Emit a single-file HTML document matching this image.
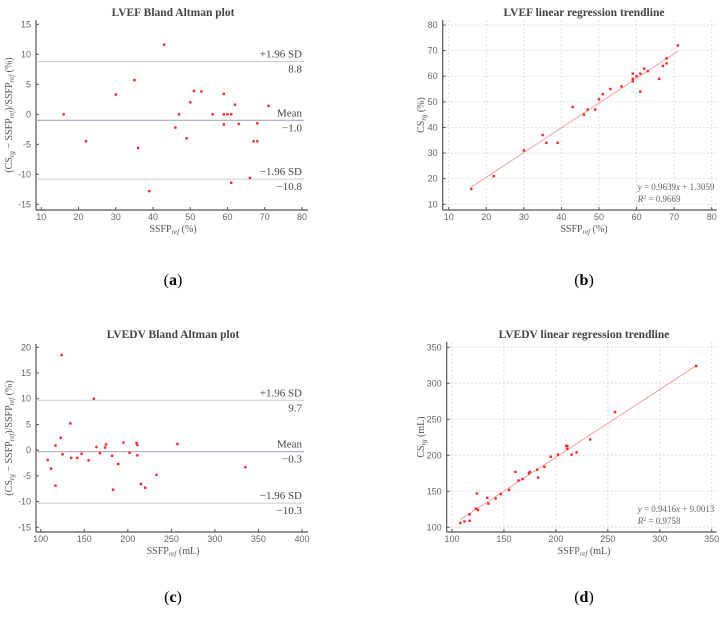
<!DOCTYPE html>
<html><head><meta charset="utf-8">
<style>
body{margin:0;background:#fff;width:728px;height:619px;overflow:hidden}
svg{display:block}
.tk{font-family:"Liberation Sans",sans-serif;font-size:9px;fill:#666}
.tt{font-family:"Liberation Serif",serif;font-size:11.5px;font-weight:bold;fill:#444}
.lb{font-family:"Liberation Serif",serif;font-size:10px;fill:#555}
.eq{font-family:"Liberation Serif",serif;font-size:9px;fill:#666}
.an{font-family:"Liberation Serif",serif;font-size:11px;fill:#444}
.pl{font-family:"Liberation Serif",serif;font-size:16px;fill:#000}
</style></head><body>
<svg id="s" width="728" height="619"></svg>
<script>
const aX=[16,22,30,35,36,39,43,46,47,49,50,51,53,56,59,59,59,60,61,61,62,63,66,67,68,68,71];
const aY=[0,-4.5,3.3,5.7,-5.6,-12.8,11.6,-2.2,0,-4,2,3.9,3.8,0,3.4,0,-1.7,0,0,-11.4,1.6,-1.6,-10.6,-4.5,-4.5,-1.5,1.4];
const aLines=[8.8,-1.0,-10.8];
const bX=aX;
const bY=[16,21,31,37,34,34,48,45,47,47,51,53,55,56,61,59,58,60,61,54,63,62,59,64,67,65,72];
const bFit=[0.9639,1.3059,0.9669];
const cX=[108,112,117,117,123,124,125,134,135,142,147,155,161,164,168,174,175,182,183,189,195,202,210,211,211,215,220,233,257,335];
const cY=[-1.9,-3.6,0.9,-6.9,2.4,18.5,-0.8,5.2,-1.5,-1.5,-0.7,-2,10,0.6,-0.6,0.5,1.1,-1.1,-7.7,-2.7,1.5,-0.5,1.4,1,-1,-6.6,-7.3,-4.8,1.2,-3.3];
const cLines=[9.7,-0.3,-10.3];
const dX=cX;
const dY=[106,108,118,109,126,147,124,141,133,140,146,152,177,165,167,175,177,180,169,184,198,201,213,213,209,201,204,222,260,324];
const dFit=[0.9416,9.0013,0.9758];
const aXt=[10,20,30,40,50,60,70,80],aYt=[-15,-10,-5,0,5,10,15];
const bXt=[10,20,30,40,50,60,70,80],bYt=[10,20,30,40,50,60,70,80];
const cXt=[100,150,200,250,300,350,400],cYt=[-15,-10,-5,0,5,10,15,20];
const dXt=[100,150,200,250,300,350],dYt=[100,150,200,250,300,350];

const S=document.getElementById('s');const NS='http://www.w3.org/2000/svg';
function el(t,a,txt){const e=document.createElementNS(NS,t);for(const k in a)e.setAttribute(k,a[k]);if(txt!==undefined)e.textContent=txt;S.appendChild(e);return e;}
function panel(o){
 const sx=v=>o.px0+(v-o.xd0)*(o.px1-o.px0)/(o.xd1-o.xd0);
 const sy=v=>o.py0+(v-o.yd0)*(o.py1-o.py0)/(o.yd1-o.yd0);
 if(o.grid){
  o.xt.forEach(v=>{const g=el('line',{x1:sx(v),x2:sx(v),y1:o.top,y2:o.bot,stroke:'#ddd','stroke-dasharray':'2,2'});});
  o.yt.forEach(v=>{const g=el('line',{x1:o.left,x2:o.right,y1:sy(v),y2:sy(v),stroke:'#ddd','stroke-dasharray':'2,2'});});
 }
 let a=el('line',{x1:o.left,x2:o.left,y1:o.top,y2:o.bot,stroke:'#555','stroke-width':1.2});
 a=el('line',{x1:o.left,x2:o.right,y1:o.bot,y2:o.bot,stroke:'#555','stroke-width':1.2});
 o.xt.forEach(v=>{el('line',{x1:sx(v),x2:sx(v),y1:o.bot,y2:o.bot-3,stroke:'#555'});const t=el('text',{x:sx(v),y:o.bot+10,'text-anchor':'middle',class:'tk'},v);});
 o.yt.forEach(v=>{el('line',{x1:o.left,x2:o.left+3,y1:sy(v),y2:sy(v),stroke:'#555'});const t=el('text',{x:o.left-5,y:sy(v)+3,'text-anchor':'end',class:'tk'},v);});
 if(o.lines){
  const cols=['#ccc','#aab','#ccc'];
  const names=[['+1.96 SD','upper-limit'],['Mean','mean'],['\u22121.96 SD','lower-limit']];
  o.lines.forEach((v,i)=>{const y=sy(v);
   const l=el('line',{x1:o.left,x2:o.right-4,y1:y,y2:y,stroke:cols[i],'stroke-width':i==1?1.2:1});
   let t=el('text',{x:o.right-6,y:y-4,'text-anchor':'end',class:'an'},names[i][0]);
   t=el('text',{x:o.right-6,y:y+11,'text-anchor':'end',class:'an'},(v<0?'\u2212':'')+Math.abs(v).toFixed(1));
  });
 }
 if(o.fit){const x0=Math.min(...o.x),x1=Math.max(...o.x);
  const l=el('line',{x1:sx(x0),x2:sx(x1),y1:sy(o.fit[0]*x0+o.fit[1]),y2:sy(o.fit[0]*x1+o.fit[1]),stroke:'#f4a0a0','stroke-width':1});
  let t=el('text',{x:o.right-79,y:o.bot-20,class:'eq'});
  t.innerHTML='<tspan font-style="italic">y</tspan> = '+o.fit[0]+'<tspan font-style="italic">x</tspan> + '+o.fit[1].toFixed(4);
  t=el('text',{x:o.right-79,y:o.bot-8,class:'eq'});
  t.innerHTML='<tspan font-style="italic">R</tspan><tspan font-size="6" dy="-3">2</tspan><tspan dy="3"> = '+o.fit[2].toFixed(4)+'</tspan>';
 }
 o.x.forEach((v,i)=>{const p=el('rect',{x:sx(v)-1.2,y:sy(o.y[i])-1.2,width:2.4,height:2.4,fill:'#f22'});});
 let t=el('text',{x:o.tx,y:o.ty,'text-anchor':'middle',class:'tt'},o.title);
 t=el('text',{x:o.tx,y:o.bot+22,'text-anchor':'middle',class:'lb'});
 t.innerHTML='SSFP<tspan font-size="7" dy="2" font-style="italic">ref</tspan><tspan dy="-2"> '+o.xu+'</tspan>';
 const yc=(o.top+o.bot)/2;
 t=el('text',{x:o.ylx,y:yc,'text-anchor':'middle',class:'lb',transform:`rotate(-90 ${o.ylx} ${yc})`});
 t.innerHTML=o.yl;
 t=el('text',{x:o.tx,y:o.ply,'text-anchor':'middle',class:'pl'});
 t.innerHTML='(<tspan font-weight="bold">'+o.pl+'</tspan>)';
}
const sub=s=>'<tspan font-size="7" dy="2" font-style="italic">'+s+'</tspan><tspan dy="-2">';
const baYl='(CS'+sub('rg')+' \u2212 SSFP'+sub('ref')+')/SSFP'+sub('ref')+' (%)</tspan></tspan></tspan>';
panel({x:aX,y:aY,xd0:10,xd1:80,px0:41.3,px1:302,yd0:15,yd1:-15,py0:24.3,py1:204.3,left:36,right:308,top:20,bot:210,xt:aXt,yt:aYt,lines:aLines,title:'LVEF Bland Altman plot',tx:173,ty:16,xu:'(%)',yl:baYl,ylx:12,pl:'a',ply:285});
panel({x:bX,y:bY,xd0:10,xd1:80,px0:448.7,px1:711.7,yd0:80,yd1:10,py0:25,py1:204.3,left:442.7,right:716.7,top:20,bot:210,xt:bXt,yt:bYt,grid:1,fit:bFit,title:'LVEF linear regression trendline',tx:584,ty:16,xu:'(%)',yl:'CS'+sub('rg')+' (%)</tspan>',ylx:424,pl:'b',ply:285});
panel({x:cX,y:cY,xd0:100,xd1:400,px0:40.7,px1:302,yd0:20,yd1:-15,py0:347.3,py1:527.3,left:36,right:308,top:344,bot:532,xt:cXt,yt:cYt,lines:cLines,title:'LVEDV Bland Altman plot',tx:173,ty:338,xu:'(mL)',yl:baYl,ylx:12,pl:'c',ply:602});
panel({x:dX,y:dY,xd0:100,xd1:350,px0:452,px1:711.7,yd0:350,yd1:100,py0:347.3,py1:527.3,left:446.7,right:716.7,top:342,bot:532,xt:dXt,yt:dYt,grid:1,fit:dFit,title:'LVEDV linear regression trendline',tx:584,ty:338,xu:'(mL)',yl:'CS'+sub('rg')+' (mL)</tspan>',ylx:424,pl:'d',ply:602});
</script>
</body></html>
